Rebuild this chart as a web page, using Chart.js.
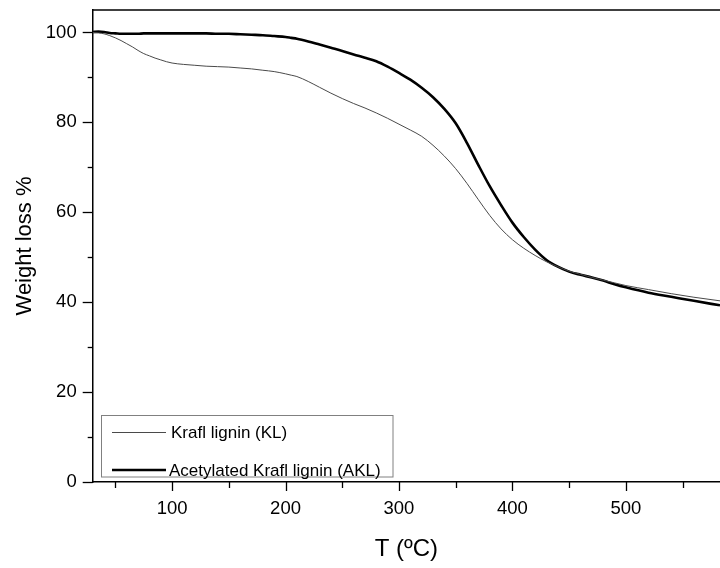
<!DOCTYPE html>
<html>
<head>
<meta charset="utf-8">
<script src="https://cdn.jsdelivr.net/npm/chart.js@4/dist/chart.umd.min.js"></script>
<style>
html,body{margin:0;padding:0;background:#fff;overflow:hidden;}
#wrap{width:720px;height:568px;position:relative;}
</style>
</head>
<body>
<div id="wrap"><canvas id="c"></canvas></div>
<script>
// Temperature (°C) sampling points
const temps = [30,35,40,45,50,55,60,65,70,75,80,85,90,95,100,110,120,130,140,150,160,170,180,190,200,205,210,220,230,240,250,260,270,280,290,300,310,320,330,340,350,360,370,380,390,400,410,420,430,440,450,460,470,480,490,500,520,540,560,583];
// Krafl lignin (KL)
const klWeight = [100,99.9,99.7,99.3,98.8,98.2,97.5,96.8,96.0,95.3,94.8,94.3,93.9,93.5,93.2,92.9,92.7,92.5,92.4,92.3,92.1,91.9,91.6,91.3,90.8,90.5,90.2,89.1,87.8,86.5,85.3,84.2,83.2,82.1,80.9,79.6,78.3,76.9,74.9,72.5,69.7,66.4,62.8,59.3,56.3,53.9,52.0,50.4,49.0,47.9,46.9,46.2,45.5,44.9,44.3,43.7,42.8,41.9,41.1,40.3];
// Acetylated Krafl lignin (AKL)
const aklWeight = [100.1,100.2,100.1,99.9,99.8,99.7,99.7,99.7,99.7,99.8,99.8,99.8,99.8,99.8,99.8,99.8,99.8,99.8,99.7,99.7,99.6,99.5,99.4,99.2,99.0,98.8,98.6,98.0,97.3,96.6,95.9,95.1,94.4,93.6,92.4,91.0,89.5,87.7,85.6,83.0,79.8,75.4,70.5,65.8,61.6,57.7,54.5,51.7,49.4,47.9,46.8,46.1,45.5,44.8,44.0,43.3,42.1,41.2,40.3,39.3];
const seriesLabels = ['Krafl lignin (KL)','Acetylated Krafl lignin (AKL)'];
const xTickLabels = [100,200,300,400,500];
const yTickLabels = [0,20,40,60,80,100];
const xMinorTicks = [50,100,150,200,250,300,350,400,450,500,550];
const yMinorTicks = [0,10,20,30,40,50,60,70,80,90,100];

const FONT = "'Liberation Sans', Arial, sans-serif";

const framePlugin = {
  id: 'frame',
  afterDraw(chart) {
    const ctx = chart.ctx, a = chart.chartArea;
    const xs = chart.scales.x, ys = chart.scales.y;
    ctx.save();
    ctx.strokeStyle = '#000';
    ctx.lineWidth = 1.5;
    ctx.beginPath();
    ctx.moveTo(a.left, a.top); ctx.lineTo(a.right, a.top);
    ctx.stroke();
    ctx.lineWidth = 1.3;
    xMinorTicks.forEach(v => {
      const px = Math.round(xs.getPixelForValue(v)) + 0.5;
      const len = (v % 100 === 0) ? 9 : 6;
      ctx.beginPath(); ctx.moveTo(px, a.bottom); ctx.lineTo(px, a.bottom + len); ctx.stroke();
    });
    yMinorTicks.forEach(v => {
      const py = Math.round(ys.getPixelForValue(v)) + 0.5;
      const len = (v % 20 === 0) ? 10 : 5;
      ctx.beginPath(); ctx.moveTo(a.left - len, py); ctx.lineTo(a.left, py); ctx.stroke();
    });
    const bx = 101.5, by = 415.5, bw = 291.5, bh = 61.5;
    ctx.fillStyle = '#fff';
    ctx.fillRect(bx, by, bw, bh);
    ctx.strokeStyle = '#808080';
    ctx.lineWidth = 1;
    ctx.strokeRect(bx, by, bw, bh);
    const ds = chart.data.datasets;
    const rows = [432.5, 470];
    ds.forEach((d, i) => {
      ctx.strokeStyle = d.borderColor;
      ctx.lineWidth = d.borderWidth;
      ctx.beginPath(); ctx.moveTo(112, rows[i]); ctx.lineTo(166, rows[i]); ctx.stroke();
      ctx.fillStyle = '#000';
      ctx.font = '17px ' + FONT;
      ctx.textBaseline = 'middle';
      ctx.textAlign = 'left';
      ctx.fillText(d.label, i === 0 ? 171 : 169, i === 0 ? 433 : 471);
    });
    ctx.restore();
  }
};

new Chart(document.getElementById('c'), {
  type: 'line',
  data: {
    datasets: [
      {
        label: seriesLabels[0],
        data: temps.map((t, i) => ({x: t, y: klWeight[i]})),
        borderColor: '#4a4a4a',
        borderWidth: 1,
        pointRadius: 0,
        cubicInterpolationMode: 'monotone',
        fill: false
      },
      {
        label: seriesLabels[1],
        data: temps.map((t, i) => ({x: t, y: aklWeight[i]})),
        borderColor: '#000',
        borderWidth: 2.6,
        pointRadius: 0,
        cubicInterpolationMode: 'monotone',
        fill: false
      }
    ]
  },
  options: {
    responsive: true,
    maintainAspectRatio: false,
    animation: false,
    layout: {padding: {top: 10, right: 0, left: 0, bottom: 0}},
    plugins: {legend: {display: false}, tooltip: {enabled: false}},
    scales: {
      x: {
        type: 'linear',
        min: 30, max: 583,
        afterBuildTicks: s => { s.ticks = xTickLabels.map(v => ({value: v})); },
        afterFit: s => { s.height = 86; s.paddingLeft = 0; s.paddingRight = 0; },
        grid: {display: false, drawTicks: false},
        border: {display: true, color: '#000', width: 1.5},
        ticks: {color: '#000', font: {size: 18.5, family: FONT}, padding: 16, maxRotation: 0},
        title: {display: true, text: 'T (ºC)', color: '#000', font: {size: 24, family: FONT}, padding: {top: 1}}
      },
      y: {
        min: 0, max: 105,
        afterBuildTicks: s => { s.ticks = yTickLabels.map(v => ({value: v})); },
        afterFit: s => { s.width = 92.7; s.paddingTop = 0; s.paddingBottom = 0; },
        grid: {display: false, drawTicks: false},
        border: {display: true, color: '#000', width: 1.5},
        ticks: {color: '#000', font: {size: 18.5, family: FONT}, padding: 16},
        title: {display: true, text: 'Weight loss %', color: '#000', font: {size: 22, family: FONT}, padding: {top: 12, bottom: 0}}
      }
    }
  },
  plugins: [framePlugin]
});
</script>
</body>
</html>
